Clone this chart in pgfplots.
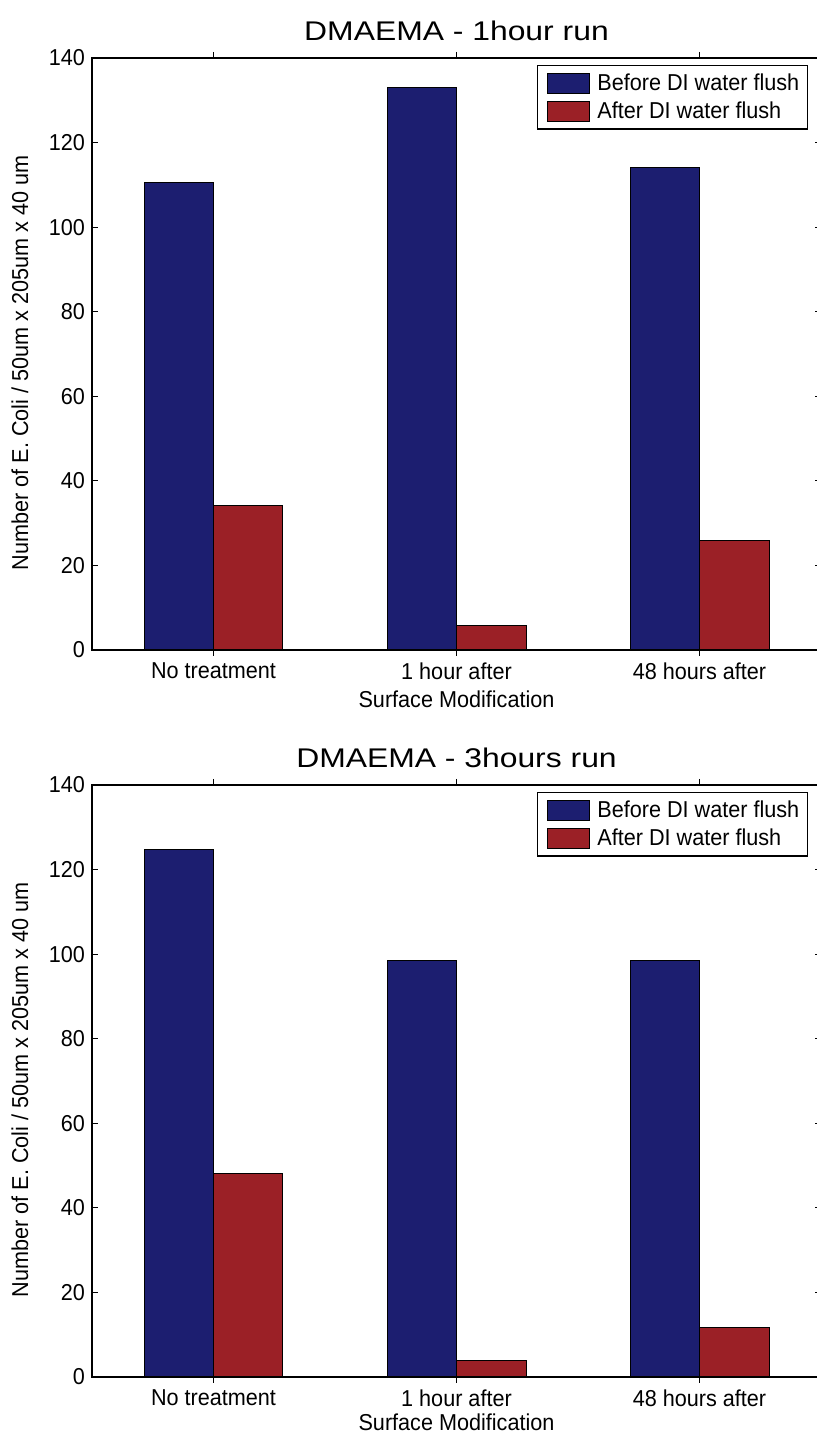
\documentclass[border=0pt]{standalone}
\usepackage{fontspec}
\setmainfont{Liberation Sans}[FakeStretch=0.94]
\newfontfamily\titlefont{Liberation Sans}[FakeStretch=1.18]
\usepackage{pgfplots}
\pgfplotsset{compat=1.18}
\definecolor{bblue}{RGB}{28,30,112}
\definecolor{rred}{RGB}{155,32,38}
\pgfplotsset{
  myax/.style={
    scale only axis, width=364.5pt, height=296pt,
    anchor=south west,
    xmin=0.5, xmax=3.5, ymin=0, ymax=140,
    xtick={1,2,3}, xticklabels={No treatment,1 hour after,48 hours after},
    ytick={0,20,...,140},
    tick align=inside, major tick length=3pt,
    axis line style={line width=0.7pt},
    tick style={line width=0.6pt, black},
    ybar, bar width=0.286,
    font=\fontsize{11.5}{13}\selectfont,
    /pgf/number format/assume math mode=true,
    xlabel={Surface Modification},
    ylabel={Number of E. Coli / 50um x 205um x 40 um},
    xlabel style={at={(axis description cs:0.5,-0.0828)}, anchor=center},
    ylabel style={at={(axis description cs:-0.0988,0.485)}, anchor=center},
    title style={at={(axis description cs:0.5,1.025)}, anchor=center, yshift=0pt,
      font=\titlefont\fontsize{13.5}{16}\selectfont},
    legend style={at={(axis description cs:0.982,0.988)}, anchor=north east,
      draw=black, line width=0.6pt, inner sep=2pt, row sep=0pt,
      font=\fontsize{11.5}{13}\selectfont},
    legend cell align=left,
    legend image code/.code={\path[draw=none,fill=none] (0pt,0pt) (26pt,0pt);\draw[#1,bar shift=0pt] (3pt,-5pt) rectangle (24pt,5pt);},
  },
  bb/.style={fill=bblue, draw=black, line width=0.5pt, bar shift=-0.143},
  rr/.style={fill=rred, draw=black, line width=0.5pt, bar shift=0.143},
}
\begin{document}
\begin{tikzpicture}[x=1pt,y=1pt]
\begin{axis}[myax, at={(46pt,393.5pt)}, title={DMAEMA - 1hour run}]
\addplot[bb] coordinates {(1,110.6) (2,133) (3,114.2)};
\addplot[rr] coordinates {(1,34.2) (2,5.9) (3,26)};
\legend{Before DI water flush, After DI water flush}
\end{axis}
\begin{axis}[myax, at={(46pt,30pt)}, title={DMAEMA - 3hours run},
  xlabel style={at={(axis description cs:0.5,-0.076)}}]
\addplot[bb] coordinates {(1,124.7) (2,98.5) (3,98.4)};
\addplot[rr] coordinates {(1,48.1) (2,4) (3,11.6)};
\legend{Before DI water flush, After DI water flush}
\end{axis}
\pgfresetboundingbox
\useasboundingbox (0pt,0pt) rectangle (408.5pt,718.5pt);
\end{tikzpicture}
\end{document}
